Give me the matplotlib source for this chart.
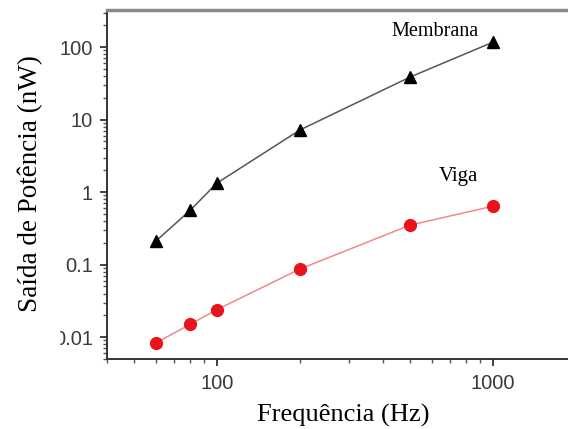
import matplotlib
matplotlib.use("Agg")
import matplotlib.pyplot as plt
from matplotlib.patches import Rectangle
from matplotlib.ticker import LogLocator, FixedLocator, FixedFormatter, NullFormatter

# data
freq = [60, 80, 100, 200, 500, 1000]
membrana = [0.21, 0.56, 1.33, 7.2, 38.5, 117]
viga = [0.0083, 0.015, 0.024, 0.087, 0.35, 0.64]

y_ticks = [0.01, 0.1, 1, 10, 100]
y_labels = ["0.01", "0.1", "1", "10", "100"]
x_ticks = [100, 1000]
x_labels = ["100", "1000"]

W, H = 568, 429
fig = plt.figure(figsize=(W / 100, H / 100), dpi=100)
# axes deliberately runs past the right edge (cropped original)
ax = fig.add_axes([107 / W, 1 - 359 / H, 469 / W, 349 / H])

ax.plot(freq, membrana, color="#555555", lw=1.1, marker="^", ms=8,
        mfc="black", mec="black", zorder=3)
ax.plot(freq, viga, color="#f08a8a", lw=1.1, marker="o", ms=8.5,
        mfc="#e8141c", mec="#e8141c", zorder=3)

ax.set_xscale("log")
ax.set_yscale("log")
ax.set_xlim(40, 2000)
ax.set_ylim(0.005, 325)

ax.xaxis.set_major_locator(FixedLocator(x_ticks))
ax.xaxis.set_major_formatter(FixedFormatter(x_labels))
ax.xaxis.set_minor_locator(LogLocator(base=10, subs=range(2, 10)))
ax.xaxis.set_minor_formatter(NullFormatter())
ax.yaxis.set_major_locator(FixedLocator(y_ticks))
ax.yaxis.set_major_formatter(FixedFormatter(y_labels))
ax.yaxis.set_minor_locator(LogLocator(base=10, subs=range(2, 10)))
ax.yaxis.set_minor_formatter(NullFormatter())

for lab in ax.get_xticklabels() + ax.get_yticklabels():
    lab.set_fontfamily("Liberation Sans")
    lab.set_fontsize(14.5)
    lab.set_color("#3a3a3a")
ax.tick_params(which="major", direction="out", length=5, width=1.3,
               color="#333333", pad=5)
ax.tick_params(which="minor", direction="out", length=3, width=1,
               color="#555555")
ax.tick_params(axis="x", which="major", pad=6)

ax.spines["right"].set_visible(False)
ax.spines["top"].set_color("#8a8a8a")
ax.spines["top"].set_linewidth(2.5)
for s in ("left", "bottom"):
    ax.spines[s].set_color("#333333")
    ax.spines[s].set_linewidth(1.4)

# curve names, placed in figure pixels
fig.text(435 / W, 1 - 32 / H, "Membrana", family="Liberation Serif",
         fontsize=14.5, ha="center", va="center")
fig.text(458 / W, 1 - 177 / H, "Viga", family="Liberation Serif",
         fontsize=15, ha="center", va="center")

fig.text(343 / W, 1 - 415 / H, "Frequência (Hz)", family="Liberation Serif",
         fontsize=19, ha="center", va="center")

# white strip that clips the left of the lowest tick label, like the original
fig.add_artist(Rectangle((0, 0), 59 / W, 1, transform=fig.transFigure,
                         color="white", zorder=5))
fig.text(30 / W, 1 - 184 / H, "Saída de Potência (nW)", rotation=90,
         family="Liberation Serif", fontsize=19.5, ha="center", va="center",
         zorder=6)

fig.savefig("out.png", dpi=100)
